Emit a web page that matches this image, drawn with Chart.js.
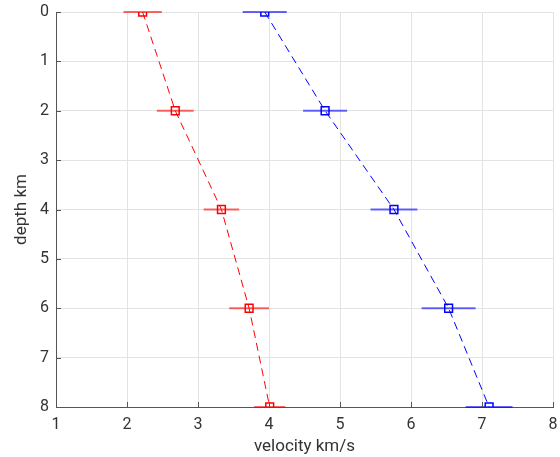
<!DOCTYPE html>
<html><head><meta charset="utf-8">
<script src="https://cdn.jsdelivr.net/npm/chart.js@4/dist/chart.umd.min.js"></script>
<style>html,body{margin:0;padding:0;background:#fff}#wrap{width:560px;height:457px}</style>
</head><body><div id="wrap"><canvas id="c" width="560" height="457"></canvas></div>
<script>
const depths = [0, 2, 4, 6, 8];
const redVelocity = [2.22, 2.68, 3.33, 3.72, 4.01];
const redError = [0.27, 0.26, 0.25, 0.28, 0.22];
const blueVelocity = [3.94, 4.79, 5.76, 6.53, 7.10];
const blueError = [0.31, 0.31, 0.33, 0.38, 0.33];
const xTicks = [1, 2, 3, 4, 5, 6, 7, 8];
const yTicks = [0, 1, 2, 3, 4, 5, 6, 7, 8];

function pts(v){ return v.map((x,i)=>({x:x, y:depths[i]})); }

const errorBars = {
  id:'errorBars',
  beforeDatasetsDraw(chart){
    const ctx = chart.ctx, xs = chart.scales.x, ys = chart.scales.y;
    chart.data.datasets.forEach(ds=>{
      ctx.save();
      ctx.strokeStyle = ds.errColor; ctx.lineWidth = 2;
      ds.data.forEach((p,i)=>{
        const e = ds.errors[i];
        const y = ys.getPixelForValue(p.y);
        ctx.beginPath();
        ctx.moveTo(xs.getPixelForValue(p.x - e), y);
        ctx.lineTo(xs.getPixelForValue(p.x + e), y);
        ctx.stroke();
      });
      ctx.restore();
    });
  },
  afterDraw(chart){
    const ctx = chart.ctx, xs = chart.scales.x, ys = chart.scales.y, a = chart.chartArea;
    ctx.save(); ctx.strokeStyle = '#555'; ctx.lineWidth = 1;
    xTicks.forEach(t=>{ const x = Math.round(xs.getPixelForValue(t))+0.5; ctx.beginPath(); ctx.moveTo(x, a.bottom); ctx.lineTo(x, a.bottom-5); ctx.stroke(); });
    yTicks.forEach(t=>{ const y = Math.round(ys.getPixelForValue(t))+0.5; ctx.beginPath(); ctx.moveTo(a.left, y); ctx.lineTo(a.left+5, y); ctx.stroke(); });
    ctx.restore();
  }
};

new Chart(document.getElementById('c'), {
  type:'scatter',
  data:{ datasets:[
    { data: pts(redVelocity), errors: redError, errColor:'rgba(255,0,0,0.6)', showLine:true, borderColor:'#ff0000', backgroundColor:'rgba(0,0,0,0)', borderWidth:1, borderDash:[8,5], pointStyle:'rect', pointRadius:5.5, pointBorderWidth:1.5, pointBorderColor:'#ff0000', pointBackgroundColor:'rgba(0,0,0,0)' },
    { data: pts(blueVelocity), errors: blueError, errColor:'rgba(0,0,255,0.6)', showLine:true, borderColor:'#0000ff', backgroundColor:'rgba(0,0,0,0)', borderWidth:1, borderDash:[8,5], pointStyle:'rect', pointRadius:5.5, pointBorderWidth:1.5, pointBorderColor:'#0000ff', pointBackgroundColor:'rgba(0,0,0,0)' }
  ]},
  options:{
    responsive:false, animation:false,
    layout:{ padding:{ top:12, right:0, left:0, bottom:0 } },
    plugins:{ legend:{display:false}, tooltip:{enabled:false} },
    scales:{
      x:{ type:'linear', min:1, max:8, afterBuildTicks(s){ s.ticks = xTicks.map(v=>({value:v})); },
          afterFit(s){ s.height = 50; s.paddingLeft = 0; s.paddingRight = 0; },
          grid:{ color:'#e3e3e3', drawTicks:false }, border:{ color:'#555', width:1 },
          ticks:{ padding:8, color:'#333', font:{ family:'Roboto', size:16 }, maxRotation:0 },
          title:{ display:true, text:'velocity km/s', color:'#333', font:{ family:'Roboto', size:17 }, padding:{top:0,bottom:0} } },
      y:{ type:'linear', reverse:true, min:0, max:8, afterBuildTicks(s){ s.ticks = yTicks.map(v=>({value:v})); },
          afterFit(s){ s.width = 56; s.paddingTop = 0; s.paddingBottom = 0; },
          grid:{ color:'#e3e3e3', drawTicks:false }, border:{ color:'#555', width:1 },
          ticks:{ padding:7, color:'#333', font:{ family:'Roboto', size:16 } },
          title:{ display:true, text:'depth km', color:'#333', font:{ family:'Roboto', size:17 }, padding:{top:12,bottom:0} } }
    }
  },
  plugins:[errorBars]
});
</script></body></html>
